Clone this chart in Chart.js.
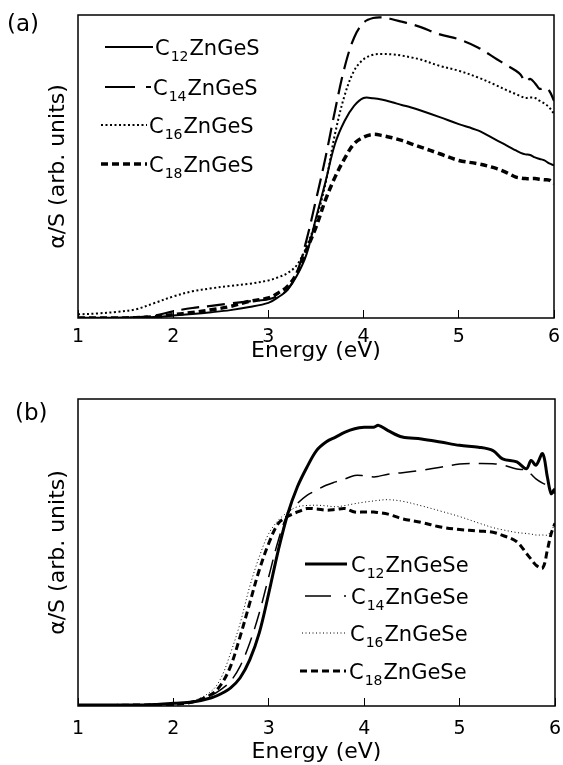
<!DOCTYPE html>
<html>
<head>
<meta charset="utf-8">
<script src="https://cdn.jsdelivr.net/npm/chart.js@4.4.0/dist/chart.umd.min.js"></script>
<style>
  body { margin: 0; background: #fff; width: 563px; height: 765px; position: relative; overflow: hidden; }
  canvas { position: absolute; left: 0; }
  #chartA { top: 0; }
  #chartB { top: 383px; }
  .tag { position: absolute; font-family: "DejaVu Sans", sans-serif; font-size: 23px; line-height: 1; color: #000; }
</style>
</head>
<body>
<canvas id="chartA" width="563" height="383"></canvas>
<canvas id="chartB" width="563" height="382"></canvas>
<div class="tag" style="left:7px; top:12px">(a)</div>
<div class="tag" style="left:15px; top:401px">(b)</div>
<script>
// chain lengths -> labels
var chains = ['12', '14', '16', '18'];
var xTicks = [1, 2, 3, 4, 5, 6];

// (a) C_nZnGeS
var energyA = [1.0, 1.2, 1.4, 1.6, 1.8, 2.0, 2.2, 2.4, 2.6, 2.8, 3.0, 3.1, 3.2, 3.3, 3.4, 3.5, 3.6, 3.7, 3.8, 3.9, 4.0,
               4.1, 4.2, 4.3, 4.4, 4.5, 4.6, 4.8, 5.0, 5.2, 5.4, 5.5, 5.6, 5.65, 5.7, 5.75, 5.8, 5.85, 5.9, 5.95, 6.0];
var c12S = [0.1, 0.1, 0.1, 0.2, 0.3, 0.8, 1.3, 1.9, 2.6, 3.6, 5, 6.8, 9.3, 14, 21, 33, 45, 57.5, 65, 70, 72.6,
            72.5, 72, 71.2, 70.3, 69.5, 68.5, 66.3, 64, 61.9, 58.6, 57, 55.3, 54.5, 54, 53.8, 53, 52.5, 52, 51, 50.4];
var c14S = [0, 0, 0, 0.2, 0.8, 2.2, 3.3, 4.0, 4.8, 5.5, 6.2, 7.3, 9.3, 15, 25.7, 39, 53, 68.5, 82.7, 92.5, 97.5,
            99, 99.2, 98.6, 97.8, 97, 96, 93.6, 92, 89.3, 85.4, 83.5, 81.6, 80.3, 78, 78.9, 77.5, 75.6, 76.1, 75, 71.7];
var c16S = [1.2, 1.5, 2.0, 2.8, 4.9, 7.1, 8.8, 9.8, 10.6, 11.3, 12.4, 13.4, 14.8, 17.5, 23.5, 32.3, 44.4, 60.8, 73.4, 81.6, 85.4,
            86.9, 87.1, 87, 86.6, 86, 85.3, 83.2, 81.6, 79.4, 76.7, 75.2, 73.9, 73.2, 72.6, 72.8, 72.6, 71.7, 70.8, 69.5, 67.4];
var c18S = [0, 0, 0, 0.1, 0.4, 1.1, 1.8, 2.7, 3.8, 5.5, 6.6, 8.2, 10.4, 14.8, 22.5, 30, 39, 46.5, 52.6, 57.5, 59.7,
            60.6, 60.2, 59.5, 58.6, 57.5, 56.4, 54.2, 52, 50.9, 49.3, 48, 46.5, 46.2, 46, 46, 46, 45.8, 45.6, 45.5, 44.4];

// (b) C_nZnGeSe
var energyB = [1.0, 1.2, 1.4, 1.6, 1.8, 2.0, 2.2, 2.4, 2.5, 2.6, 2.7, 2.8, 2.9, 3.0, 3.1, 3.2, 3.3, 3.4, 3.5, 3.6, 3.7,
               3.8, 3.9, 4.0, 4.1, 4.15, 4.25, 4.4, 4.6, 4.8, 5.0, 5.2, 5.35, 5.45, 5.6, 5.7, 5.75, 5.8, 5.87, 5.92, 5.96, 6.0];
var c12Se = [0.3, 0.3, 0.3, 0.3, 0.5, 0.9, 1.3, 2.7, 4, 5.9, 9.2, 15, 23.8, 36.8, 50.8, 62.7, 71.4, 77.8, 83.2, 86, 87.6,
             89.2, 90.3, 90.8, 90.8, 91.4, 89.7, 87.6, 87, 86, 84.9, 84.3, 83.2, 80.5, 79.5, 77.3, 80, 78.4, 82.2, 74.6, 69.2, 70.8];
var c14Se = [0.2, 0.2, 0.2, 0.3, 0.5, 0.8, 1.5, 3.5, 5.4, 8.1, 13, 20.5, 30.3, 42.2, 54, 62.7, 66, 68.6, 70.3, 71.9, 73,
             74, 75.1, 75, 74.6, 74.8, 75.5, 76, 76.8, 77.8, 78.8, 79, 78.9, 78.5, 77.2, 76.8, 75.5, 74, 72.6, 71.9, 70.8, 69.2];
var c16Se = [0.2, 0.2, 0.3, 0.4, 0.6, 1, 1.6, 4.9, 9.2, 17.3, 27, 38.9, 48.6, 56.2, 60.5, 63.2, 64.9, 65.3, 65.4, 65.2, 64.9,
             65.3, 65.9, 66.4, 66.8, 67, 67.2, 66.7, 65.2, 63.5, 61.7, 59.6, 58.1, 57.4, 56.5, 56.2, 56, 55.7, 55.7, 55.7, 57, 59.5];
var c18Se = [0.2, 0.2, 0.2, 0.3, 0.4, 0.5, 1.3, 3.8, 7, 13, 22.7, 33.5, 44.3, 53, 59.5, 61.8, 63.2, 64.3, 64.2, 63.8, 64,
             64.3, 63.2, 63.2, 63.2, 63, 62.5, 61, 59.8, 58.3, 57.5, 57, 56.6, 55.6, 53.5, 49.7, 47.8, 45.9, 44.9, 50.8, 56.2, 59.5];

var FONT = '"DejaVu Sans", sans-serif';

function pts(xs, ys) {
    return xs.map(function (x, i) { return { x: x, y: ys[i] }; });
}

// box round the plot area
var framePlugin = {
    id: 'frame',
    afterDraw: function (chart) {
        var a = chart.chartArea, ctx = chart.ctx;
        ctx.save();
        ctx.strokeStyle = '#000';
        ctx.lineWidth = 1.5;
        ctx.strokeRect(a.left, a.top, a.right - a.left, a.bottom - a.top);
        ctx.restore();
    }
};

// legend with subscripts: "C" + sub + rest
var subLegendPlugin = {
    id: 'subLegend',
    afterDraw: function (chart, args, opts) {
        var ctx = chart.ctx;
        ctx.save();
        chart.data.datasets.forEach(function (ds, i) {
            var it = opts.items[i];
            ctx.strokeStyle = '#000';
            ctx.lineWidth = ds.borderWidth;
            ctx.setLineDash(it.dash || ds.borderDash || []);
            ctx.beginPath();
            ctx.moveTo(it.x0, it.y);
            ctx.lineTo(it.x1, it.y);
            ctx.stroke();
            ctx.setLineDash([]);
            ctx.fillStyle = '#000';
            ctx.textBaseline = 'alphabetic';
            var base = it.y + 8;
            var x = it.tx;
            ctx.font = '21px ' + FONT;
            ctx.fillText('C', x, base);
            x += ctx.measureText('C').width + 1;
            ctx.font = '14px ' + FONT;
            ctx.fillText(ds.sub, x, base + 6);
            x += ctx.measureText(ds.sub).width + 1;
            ctx.font = '21px ' + FONT;
            ctx.fillText(ds.rest, x, base);
        });
        ctx.restore();
    }
};

function makeChart(id, energy, series, rest, styles, cfg) {
    var datasets = series.map(function (vals, i) {
        return {
            label: 'C' + chains[i] + rest,
            sub: chains[i],
            rest: rest,
            data: pts(energy, vals),
            borderColor: '#000',
            borderWidth: styles[i].w,
            borderDash: styles[i].dash,
            pointRadius: 0,
            tension: 0.35,
            fill: false
        };
    });
    return new Chart(document.getElementById(id).getContext('2d'), {
        type: 'line',
        data: { datasets: datasets },
        options: {
            responsive: false,
            animation: false,
            devicePixelRatio: 1,
            layout: { padding: cfg.padding },
            plugins: {
                legend: { display: false },
                tooltip: { enabled: false },
                subLegend: { items: cfg.legend }
            },
            scales: {
                x: {
                    type: 'linear',
                    min: 1, max: 6,
                    afterBuildTicks: function (s) { s.ticks = xTicks.map(function (v) { return { value: v }; }); },
                    afterFit: function (s) { s.height = cfg.xHeight; s.paddingLeft = 0; s.paddingRight = 0; },
                    grid: { drawOnChartArea: false, drawTicks: true, tickLength: -8, color: '#000', lineWidth: 1 },
                    border: { display: false },
                    ticks: { color: '#000', font: { family: FONT, size: 19 }, padding: cfg.tickPad, maxRotation: 0 },
                    title: { display: true, text: 'Energy (eV)', color: '#000', font: { family: FONT, size: 22 },
                             padding: { top: 0, bottom: cfg.titlePad } }
                },
                y: {
                    min: 0, max: 100,
                    afterFit: function (s) { s.width = 78; },
                    grid: { display: false },
                    border: { display: false },
                    ticks: { display: false },
                    title: { display: true, text: 'α/S (arb. units)', color: '#000', font: { family: FONT, size: 22 },
                             padding: { top: 45, bottom: 0 } }
                }
            }
        },
        plugins: [framePlugin, subLegendPlugin]
    });
}

makeChart('chartA', energyA, [c12S, c14S, c16S, c18S], 'ZnGeS',
    [{ w: 2, dash: [] }, { w: 2.2, dash: [18, 8] }, { w: 2, dash: [2, 2.5] }, { w: 3.5, dash: [7, 4] }],
    {
        padding: { top: 15, right: 9, left: 0, bottom: 0 },
        xHeight: 65, tickPad: 15.5, titlePad: 18.8,
        legend: [
            { y: 47, x0: 105, x1: 153, tx: 155 },
            { y: 87, x0: 105, x1: 151, tx: 153, dash: [30, 11, 5, 100] },
            { y: 125, x0: 101, x1: 147, tx: 149 },
            { y: 164, x0: 101, x1: 147, tx: 149 }
        ]
    });

makeChart('chartB', energyB, [c12Se, c14Se, c16Se, c18Se], 'ZnGeSe',
    [{ w: 3, dash: [] }, { w: 1.5, dash: [18, 9] }, { w: 1, dash: [1, 2.5] }, { w: 3, dash: [7, 4] }],
    {
        padding: { top: 16, right: 8, left: 0, bottom: 0 },
        xHeight: 59, tickPad: 20, titlePad: 0,
        legend: [
            { y: 181, x0: 305, x1: 347, tx: 351 },
            { y: 213, x0: 305, x1: 347, tx: 351, dash: [26, 13, 2, 100] },
            { y: 250, x0: 302, x1: 345, tx: 350 },
            { y: 288, x0: 300, x1: 346, tx: 349 }
        ]
    });
</script>
</body>
</html>
